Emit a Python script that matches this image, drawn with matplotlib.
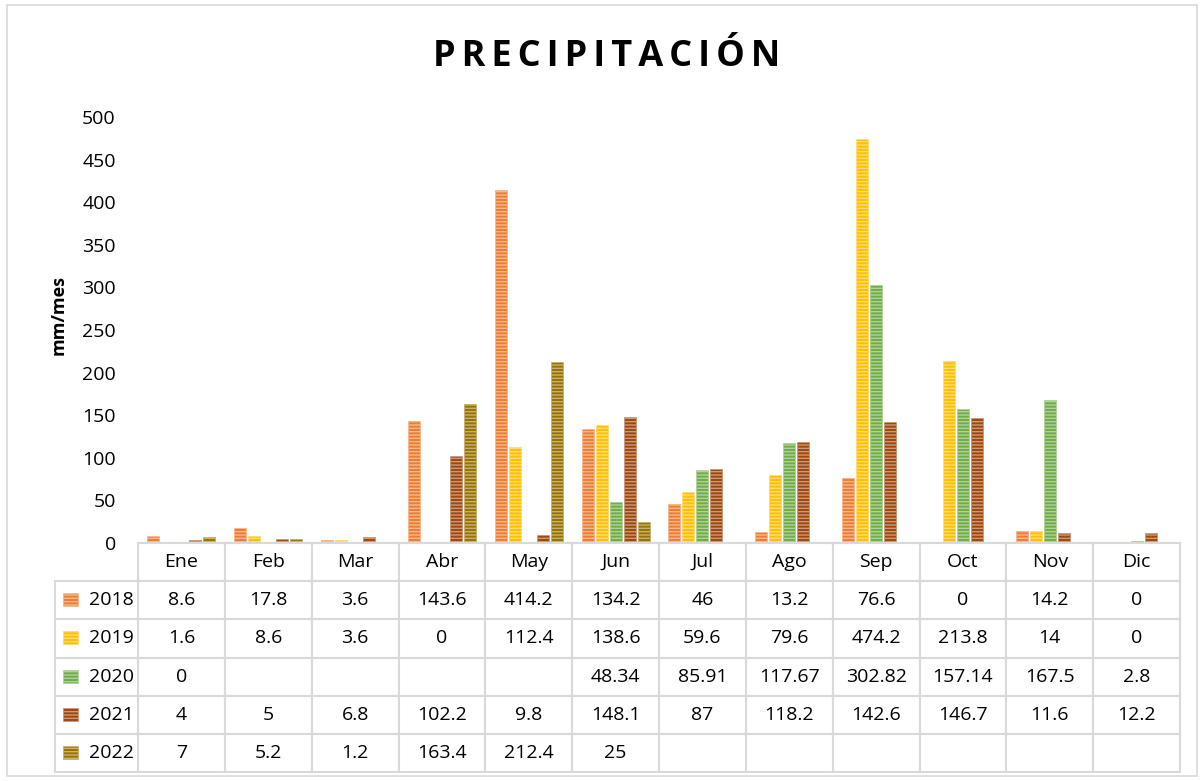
import numpy as np
import matplotlib.pyplot as plt
from matplotlib.patches import Rectangle

# Datos
meses = ['Ene', 'Feb', 'Mar', 'Abr', 'May', 'Jun', 'Jul', 'Ago', 'Sep', 'Oct', 'Nov', 'Dic']
anios = ['2018', '2019', '2020', '2021', '2022']
p2018 = [8.6, 17.8, 3.6, 143.6, 414.2, 134.2, 46, 13.2, 76.6, 0, 14.2, 0]
p2019 = [1.6, 8.6, 3.6, 0, 112.4, 138.6, 59.6, 79.6, 474.2, 213.8, 14, 0]
p2020 = [0, np.nan, np.nan, np.nan, np.nan, 48.34, 85.91, 117.67, 302.82, 157.14, 167.5, 2.8]
p2021 = [4, 5, 6.8, 102.2, 9.8, 148.1, 87, 118.2, 142.6, 146.7, 11.6, 12.2]
p2022 = [7, 5.2, 1.2, 163.4, 212.4, 25, np.nan, np.nan, np.nan, np.nan, np.nan, np.nan]
series = [p2018, p2019, p2020, p2021, p2022]

colores = ['#ED7D31', '#FFC000', '#70AD47', '#9E480E', '#997300']

def aclarar(c, f=0.45):
    c = np.array(plt.matplotlib.colors.to_rgb(c))
    return tuple(c + (1 - c) * f)

plt.rcParams['font.family'] = ['Open Sans', 'DejaVu Sans']
plt.rcParams['hatch.linewidth'] = 1.0

fig = plt.figure(figsize=(12.04, 7.81), dpi=100)
ax = fig.add_axes([138/1204, 1 - 543/781, 1042/1204, 426/781])

x = np.arange(len(meses))
paso = 0.161
ancho = 0.138
for i, (vals, col) in enumerate(zip(series, colores)):
    ax.bar(x + (i - 2) * paso, vals, width=ancho, color=col,
           edgecolor=aclarar(col), linewidth=0.6, hatch='-----')

ax.set_xlim(-0.5, 11.5)
ax.set_ylim(0, 500)
ax.set_yticks(np.arange(0, 501, 50))
ax.tick_params(axis='y', length=0, labelsize=14, pad=16)
ax.set_xticks([])
for s in ['top', 'right', 'left']:
    ax.spines[s].set_visible(False)
ax.spines['bottom'].set_color('#d9d9d9')
ax.spines['bottom'].set_linewidth(1.5)

ax.set_ylabel('mm/mes', fontsize=13, fontweight='bold')
ax.yaxis.set_label_coords(-0.068, 0.535)

# Tabla de datos
def fmt(v):
    return '' if np.isnan(v) else f'{v:g}'

celdas = [[a] + [fmt(v) for v in vals] for a, vals in zip(anios, series)]
ancho_etq = 83
anchos = [ancho_etq] + [1042 / 12] * 12
tab = ax.table(cellText=celdas, colLabels=[''] + meses, cellLoc='center',
               colWidths=[w / sum(anchos) for w in anchos],
               bbox=[-ancho_etq / 1042, -229 / 426, (1042 + ancho_etq) / 1042, 229 / 426])
tab.auto_set_font_size(False)
tab.set_fontsize(14)
for (r, c), cell in tab.get_celld().items():
    cell.set_edgecolor('#d9d9d9')
    cell.set_linewidth(1.5)
    if r == 0 and c == 0:
        cell.set_visible(False)
    if c == 0 and r > 0:
        cell.get_text().set_ha('right')
        cell.PAD = 0.05

# cuadritos de leyenda
alto_fila = 229 / 426 / 6
for i, col in enumerate(colores):
    yc = -alto_fila * (i + 1.5)
    ax.add_patch(Rectangle((-75 / 1042, yc - 6 / 426), 15 / 1042, 13 / 426,
                           transform=ax.transAxes, clip_on=False,
                           facecolor=col, edgecolor=aclarar(col), linewidth=0.5,
                           hatch='-----'))

fig.text(0.504, 0.927, '\u2006'.join('PRECIPITACIÓN'), ha='center', va='center',
         fontsize=26, fontweight='bold')

fig.patches.append(Rectangle((0.006, 0.006), 0.988, 0.988, transform=fig.transFigure,
                             fill=False, edgecolor='#d9d9d9', linewidth=1.2))

fig.savefig('out.png', dpi=100)
